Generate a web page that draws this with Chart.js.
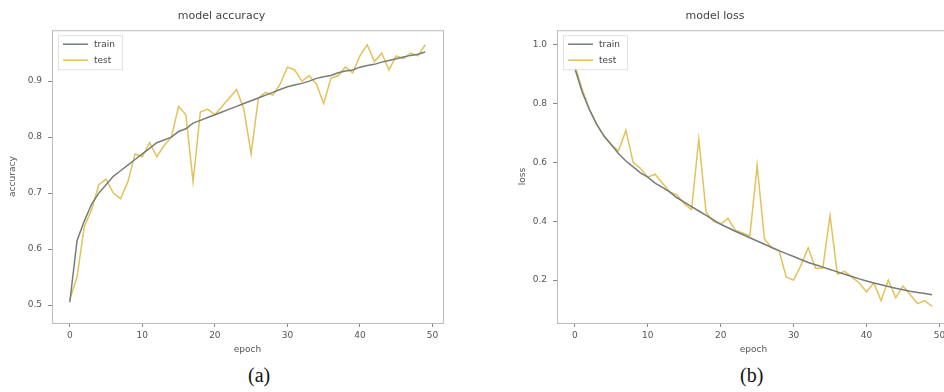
<!DOCTYPE html>
<html>
<head>
<meta charset="utf-8">
<script src="https://cdn.jsdelivr.net/npm/chart.js@4.4.1/dist/chart.umd.min.js"></script>
<style>
  body { margin: 0; width: 944px; height: 392px; overflow: hidden; background: #fff; position: relative; }
  .box { position: absolute; top: 0; height: 360px; }
  #boxA { left: 0; width: 460px; }
  #boxB { left: 480px; width: 480px; }
  .cap { position: absolute; top: 364px; font-family: "Liberation Serif", serif; font-size: 20px; color: #111; }
</style>
</head>
<body>
<div class="box" id="boxA"><canvas id="acc"></canvas></div>
<div class="box" id="boxB"><canvas id="loss"></canvas></div>
<div class="cap" style="left:248px">(a)</div>
<div class="cap" style="left:740px">(b)</div>
<script>
const epochs = Array.from({ length: 50 }, (_, i) => i)

const trainAcc = [0.505, 0.615, 0.65, 0.68, 0.70, 0.715, 0.73, 0.74, 0.75, 0.76,
  0.77, 0.78, 0.79, 0.795, 0.80, 0.81, 0.815, 0.825, 0.83, 0.835,
  0.84, 0.845, 0.85, 0.855, 0.86, 0.865, 0.87, 0.875, 0.88, 0.885,
  0.89, 0.893, 0.896, 0.90, 0.905, 0.908, 0.91, 0.915, 0.918, 0.92,
  0.925, 0.928, 0.93, 0.934, 0.937, 0.94, 0.943, 0.946, 0.948, 0.952]
const testAcc = [0.51, 0.55, 0.64, 0.67, 0.715, 0.725, 0.70, 0.69, 0.72, 0.77,
  0.765, 0.79, 0.765, 0.785, 0.80, 0.855, 0.84, 0.72, 0.845, 0.85,
  0.84, 0.855, 0.87, 0.885, 0.85, 0.77, 0.87, 0.88, 0.875, 0.895,
  0.925, 0.92, 0.90, 0.91, 0.895, 0.86, 0.905, 0.91, 0.925, 0.915,
  0.945, 0.965, 0.935, 0.95, 0.92, 0.945, 0.94, 0.95, 0.945, 0.965]

const trainLoss = [0.92, 0.84, 0.78, 0.73, 0.69, 0.66, 0.63, 0.605, 0.585, 0.565,
  0.55, 0.53, 0.515, 0.50, 0.48, 0.465, 0.45, 0.435, 0.42, 0.405,
  0.39, 0.378, 0.366, 0.355, 0.344, 0.333, 0.322, 0.311, 0.30, 0.29,
  0.28, 0.27, 0.26, 0.252, 0.244, 0.236, 0.228, 0.22, 0.212, 0.204,
  0.197, 0.19, 0.184, 0.178, 0.172, 0.167, 0.162, 0.158, 0.154, 0.15]
const testLoss = [0.93, 0.85, 0.78, 0.73, 0.69, 0.66, 0.64, 0.71, 0.60, 0.58,
  0.55, 0.56, 0.53, 0.50, 0.49, 0.46, 0.44, 0.68, 0.43, 0.40,
  0.39, 0.41, 0.37, 0.36, 0.35, 0.59, 0.34, 0.31, 0.30, 0.21,
  0.20, 0.25, 0.31, 0.24, 0.24, 0.42, 0.22, 0.23, 0.21, 0.19,
  0.16, 0.19, 0.13, 0.20, 0.14, 0.18, 0.15, 0.12, 0.13, 0.11]

const epochTicks = [0, 10, 20, 30, 40, 50]
const accTicks = [0.5, 0.6, 0.7, 0.8, 0.9]
const lossTicks = [0.2, 0.4, 0.6, 0.8, 1.0]

const TRAIN_COLOR = '#767d78'
const TEST_COLOR = '#e2c25a'
const TEXT = '#555'

// 枠線と、プロット内左上の凡例を描く
const framePlugin = {
  id: 'frame',
  afterDraw(chart) {
    const { ctx, chartArea: a } = chart
    ctx.save()
    ctx.strokeStyle = '#bbb'
    ctx.lineWidth = 1
    ctx.strokeRect(a.left + 0.5, a.top + 0.5, a.right - a.left, a.bottom - a.top)

    const lx = a.left + 6, ly = a.top + 5
    ctx.fillStyle = 'rgba(255,255,255,0.85)'
    ctx.fillRect(lx, ly, 64, 34)
    ctx.strokeStyle = '#e2e2e2'
    ctx.strokeRect(lx + 0.5, ly + 0.5, 64, 34)
    ctx.font = '9px "DejaVu Sans"'
    ctx.textBaseline = 'middle'
    chart.data.datasets.forEach((ds, i) => {
      const y = ly + 9 + i * 16
      ctx.strokeStyle = ds.borderColor
      ctx.lineWidth = 1.5
      ctx.beginPath()
      ctx.moveTo(lx + 5, y)
      ctx.lineTo(lx + 30, y)
      ctx.stroke()
      ctx.fillStyle = '#444'
      ctx.fillText(ds.label, lx + 36, y)
    })
    ctx.restore()
  }
}

function pts(ys) {
  return epochs.map((e, i) => ({ x: e, y: ys[i] }))
}

function makeChart(id, title, yTitle, train, test, yMin, yMax, yTicks, yWidth, padRight, titleLeft) {
  const ctx = document.getElementById(id).getContext('2d')
  return new Chart(ctx, {
    type: 'line',
    data: {
      datasets: [{
        label: 'train',
        data: pts(train),
        borderColor: TRAIN_COLOR,
        borderWidth: 1.5,
        pointRadius: 0,
        tension: 0
      }, {
        label: 'test',
        data: pts(test),
        borderColor: TEST_COLOR,
        borderWidth: 1.5,
        pointRadius: 0,
        tension: 0
      }]
    },
    options: {
      responsive: true,
      maintainAspectRatio: false,
      animation: false,
      layout: { padding: { right: padRight, left: 0, top: 0, bottom: 0 } },
      plugins: {
        title: {
          display: true,
          text: title,
          color: '#444',
          font: { family: 'DejaVu Sans', size: 11, weight: 'normal' },
          padding: { top: 10, bottom: 7 }
        },
        legend: { display: false },
        tooltip: { enabled: false }
      },
      scales: {
        x: {
          type: 'linear',
          min: -2.45,
          max: 51.45,
          afterBuildTicks: s => { s.ticks = epochTicks.map(v => ({ value: v })) },
          afterFit: s => { s.height = 37 },
          grid: { display: true, drawOnChartArea: false, tickLength: 4, color: '#888' },
          border: { display: false },
          ticks: { color: TEXT, padding: 3, font: { family: 'DejaVu Sans', size: 9 } },
          title: { display: true, text: 'epoch', color: TEXT, padding: { top: 0, bottom: 5 }, font: { family: 'DejaVu Sans', size: 9 } }
        },
        y: {
          min: yMin,
          max: yMax,
          afterBuildTicks: s => { s.ticks = yTicks.map(v => ({ value: v })) },
          afterFit: s => { s.width = yWidth },
          grid: { display: true, drawOnChartArea: false, tickLength: 4, color: '#888' },
          border: { display: false },
          ticks: { color: TEXT, padding: 6, font: { family: 'DejaVu Sans', size: 9 }, callback: v => v.toFixed(1) },
          title: { display: true, text: yTitle, color: TEXT, padding: { top: titleLeft, bottom: 0 }, font: { family: 'DejaVu Sans', size: 9 } }
        }
      }
    },
    plugins: [framePlugin]
  })
}

makeChart('acc', 'model accuracy', 'accuracy', trainAcc, testAcc, 0.468, 0.991, accTicks, 52, 17, 7)
makeChart('loss', 'model loss', 'loss', trainLoss, testLoss, 0.054, 1.05, lossTicks, 77, 10, 37)
</script>
</body>
</html>
